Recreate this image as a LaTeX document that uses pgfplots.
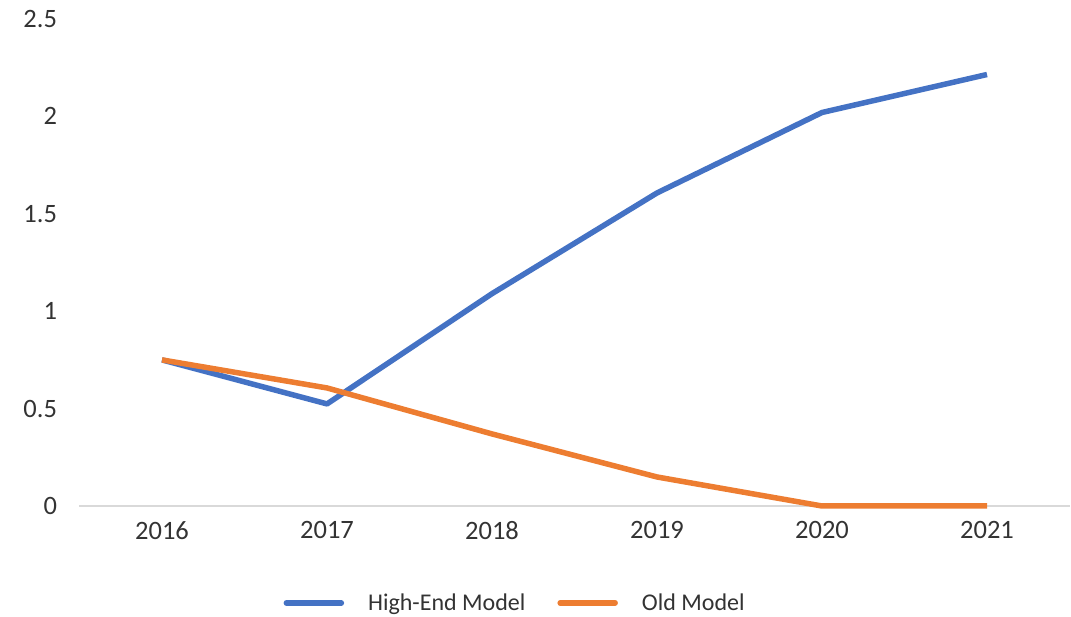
\documentclass[border=0pt]{standalone}
\usepackage{pgfplots}
\pgfplotsset{compat=1.18}
\usepackage{fontspec}
\setmainfont{Carlito}
\definecolor{cblue}{HTML}{4472C4}
\definecolor{corange}{HTML}{ED7D31}
\begin{document}
\begin{tikzpicture}[x=1pt,y=1pt]
\path[use as bounding box] (0,0) rectangle (1071,617);
\begin{axis}[
  at={(79.5pt,111pt)}, anchor=south west,
  scale only axis, width=990pt, height=487pt,
  xmin=-0.5, xmax=5.5, ymin=0, ymax=2.5,
  xtick={0,1,2,3,4,5},
  xticklabels={2016,2017,2018,2019,2020,2021},
  ytick={0,0.5,1,1.5,2,2.5},
  yticklabels={0,0.5,1,1.5,2,2.5},
  axis y line*=left,
  y axis line style={draw=none},
  axis x line*=bottom,
  x axis line style={draw=black!15, line width=1.5pt, -},
  major tick length=0pt,
  tick style={draw=none},
  xticklabel style={font=\fontsize{26.5}{30}\selectfont, text=black!80, yshift=-12pt},
  yticklabel style={font=\fontsize{26.5}{30}\selectfont, text=black!80, xshift=-19pt},
  clip=false,
  legend style={at={(0.44,-0.199)}, anchor=center, draw=none, font=\fontsize{24}{28}\selectfont, text=black!80, legend columns=2, /tikz/every even column/.append style={column sep=30pt}},
  legend image code/.code={\draw[#1, line cap=round] (0pt,0pt) -- (55pt,0pt);},
]
\addplot[cblue, line width=5.5pt, line join=round] coordinates {(0,0.75) (1,0.524) (2,1.09) (3,1.607) (4,2.02) (5,2.215)};
\addlegendentry{\hspace{22pt}High-End Model}
\addplot[corange, line width=5.5pt, line join=round] coordinates {(0,0.75) (1,0.606) (2,0.37) (3,0.149) (4,0) (5,0)};
\addlegendentry{\hspace{22pt}Old Model}
\end{axis}
\end{tikzpicture}
\end{document}
